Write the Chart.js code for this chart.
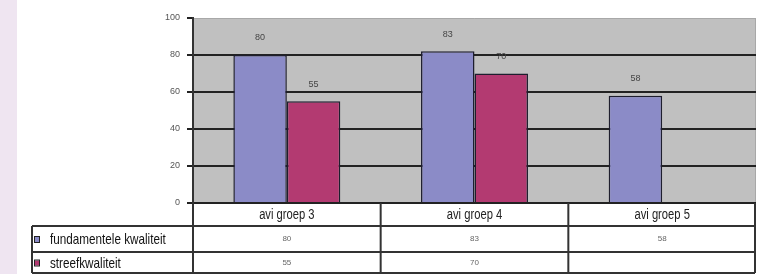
<!DOCTYPE html>
<html>
<head>
<meta charset="utf-8">
<script src="https://cdn.jsdelivr.net/npm/chart.js@4"></script>
<style>
  html, body { margin: 0; padding: 0; background: #fff; }
  #wrap { position: relative; width: 759px; height: 274px; }
  #strip { position: absolute; left: 0; top: 0; width: 17px; height: 274px; background: #efe5f1; }
</style>
</head>
<body>
<div id="wrap">
  <div id="strip"></div>
  <canvas id="kwaliteitChart" width="759" height="274"></canvas>
</div>
<script>
// categorieën en waarden
const groepen = ["avi groep 3", "avi groep 4", "avi groep 5"];
const fundamenteel = [80, 82, 58];
const streef = [55, 70, null];
const fundamenteelLabels = ["80", "83", "58"];
const streefLabels = ["55", "70", ""];
const reeksNamen = ["fundamentele kwaliteit", "streefkwaliteit"];
const yTicks = [0, 20, 40, 60, 80, 100];

const kleurBlauw = "#8b8bc7";
const kleurRood = "#b33a71";

// smalle tekst: horizontaal geschaald
function smalleTekst(ctx, tekst, x, y, schaal) {
    ctx.save();
    ctx.translate(x, y);
    ctx.scale(schaal, 1);
    ctx.fillText(tekst, 0, 0);
    ctx.restore();
}

// grijze achtergrond van het plotgebied
const achtergrond = {
    id: "achtergrond",
    beforeDraw(chart) {
        const { ctx, chartArea: a } = chart;
        ctx.save();
        ctx.fillStyle = "#c0c0c0";
        ctx.fillRect(a.left, a.top, a.right - a.left, a.bottom - a.top);
        ctx.strokeStyle = "#a8a8a8";
        ctx.lineWidth = 1;
        ctx.beginPath();
        ctx.moveTo(a.left, a.top + 0.5);
        ctx.lineTo(a.right, a.top + 0.5);
        ctx.moveTo(a.right - 0.5, a.top);
        ctx.lineTo(a.right - 0.5, a.bottom);
        ctx.stroke();
        ctx.restore();
    }
};

// waarden boven de staven
const waardeLabels = {
    id: "waardeLabels",
    afterDatasetsDraw(chart) {
        const ctx = chart.ctx;
        const teksten = [fundamenteelLabels, streefLabels];
        ctx.save();
        ctx.font = "9px 'Liberation Sans', Arial, sans-serif";
        ctx.fillStyle = "#444";
        ctx.textAlign = "center";
        ctx.textBaseline = "middle";
        chart.data.datasets.forEach((ds, d) => {
            chart.getDatasetMeta(d).data.forEach((bar, i) => {
                if (ds.data[i] === null) return;
                ctx.fillText(teksten[d][i], bar.x, bar.y - 17);
            });
        });
        ctx.restore();
    }
};

// gegevenstabel onder de grafiek
const gegevensTabel = {
    id: "gegevensTabel",
    afterDraw(chart) {
        const ctx = chart.ctx;
        const a = chart.chartArea;
        const x = chart.scales.x;
        const n = groepen.length;
        const breedte = (a.right - a.left) / n;
        const top = a.bottom;
        const rij1 = top + 23;
        const rij2 = rij1 + 26;
        const onder = 273;
        const links = 32;
        const rechts = a.right - 1;

        ctx.save();
        ctx.fillStyle = "#fff";
        ctx.fillRect(a.left, top + 1, rechts - a.left, onder - top - 1);
        ctx.fillRect(links, rij1, a.left - links, onder - rij1);

        ctx.strokeStyle = "#333";
        ctx.lineWidth = 2;
        ctx.beginPath();
        ctx.moveTo(links, rij1); ctx.lineTo(rechts, rij1);
        ctx.moveTo(links, rij2); ctx.lineTo(rechts, rij2);
        ctx.moveTo(links, onder); ctx.lineTo(rechts, onder);
        ctx.moveTo(links, rij1); ctx.lineTo(links, onder);
        ctx.moveTo(a.left, top); ctx.lineTo(a.left, onder);
        for (let i = 1; i <= n; i++) {
            const xl = a.left + i * breedte;
            ctx.moveTo(Math.min(xl, rechts), top);
            ctx.lineTo(Math.min(xl, rechts), onder);
        }
        ctx.stroke();

        ctx.textAlign = "center";
        ctx.textBaseline = "middle";
        groepen.forEach((g, i) => {
            const cx = x.getPixelForValue(i);
            ctx.font = "14px 'Liberation Sans', Arial, sans-serif";
            ctx.fillStyle = "#222";
            smalleTekst(ctx, g, cx, (top + rij1) / 2 + 1, 0.8);
            ctx.font = "8px 'Liberation Sans', Arial, sans-serif";
            ctx.fillStyle = "#666";
            ctx.fillText(fundamenteelLabels[i], cx, (rij1 + rij2) / 2);
            ctx.fillText(streefLabels[i], cx, (rij2 + onder) / 2);
        });

        const kleuren = [kleurBlauw, kleurRood];
        const rijMidden = [(rij1 + rij2) / 2, (rij2 + onder) / 2];
        reeksNamen.forEach((naam, r) => {
            ctx.fillStyle = kleuren[r];
            ctx.strokeStyle = "#222";
            ctx.lineWidth = 1;
            ctx.fillRect(35, rijMidden[r] - 2, 4, 5);
            ctx.strokeRect(34.5, rijMidden[r] - 2.5, 5, 6);
            ctx.textAlign = "left";
            ctx.font = "15px 'Liberation Sans', Arial, sans-serif";
            ctx.fillStyle = "#111";
            smalleTekst(ctx, naam, 50, rijMidden[r] + 1, 0.78);
        });
        ctx.restore();
    }
};

new Chart(document.getElementById("kwaliteitChart").getContext("2d"), {
    type: "bar",
    data: {
        labels: groepen,
        datasets: [
            {
                label: reeksNamen[0],
                data: fundamenteel,
                backgroundColor: kleurBlauw,
                borderColor: "#1e1e2e",
                borderWidth: 1.5
            },
            {
                label: reeksNamen[1],
                data: streef,
                backgroundColor: kleurRood,
                borderColor: "#1e1e2e",
                borderWidth: 1.5
            }
        ]
    },
    options: {
        responsive: false,
        animation: false,
        layout: { padding: { left: 0, top: 18, right: 3, bottom: 71 } },
        plugins: {
            legend: { display: false },
            tooltip: { enabled: false }
        },
        datasets: {
            bar: { barPercentage: 1, categoryPercentage: 0.57 }
        },
        scales: {
            x: { display: false },
            y: {
                min: 0,
                max: 100,
                afterFit(scale) { scale.width = 193; },
                afterBuildTicks(scale) { scale.ticks = yTicks.map(v => ({ value: v })); },
                ticks: {
                    font: { size: 9, family: "'Liberation Sans', Arial, sans-serif" },
                    color: "#555",
                    padding: 7
                },
                grid: {
                    color: ctx => (ctx.tick && ctx.tick.value === 100 ? "rgba(0,0,0,0)" : "#222"),
                    lineWidth: 2,
                    tickLength: 6,
                    tickColor: "#222"
                },
                border: { color: "#333", width: 2 }
            }
        }
    },
    plugins: [achtergrond, waardeLabels, gegevensTabel]
});
</script>
</body>
</html>
